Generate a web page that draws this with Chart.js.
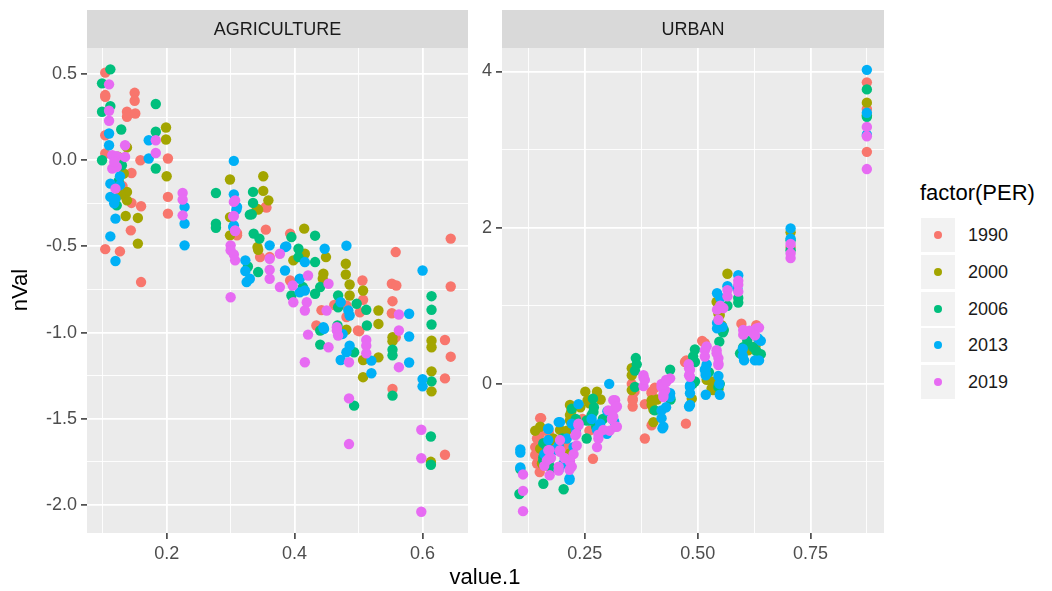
<!DOCTYPE html>
<html>
<head>
<meta charset="utf-8">
<script src="https://cdn.jsdelivr.net/npm/chart.js@4.4.0/dist/chart.umd.min.js"></script>
<style>
  body { margin: 0; background: #fff; width: 1052px; height: 591px; position: relative; overflow: hidden;
         font-family: "Liberation Sans", Arial, sans-serif; }
  canvas { position: absolute; top: 0; }
  #agri { left: 0; }
  #urban { left: 470px; }
  .axtitle { position: absolute; font-size: 22px; line-height: 28px; color: #000; white-space: nowrap; }
  #xtitle { left: 385px; width: 200px; top: 563px; text-align: center; }
  #ytitle { left: -30px; width: 100px; top: 276px; text-align: center; transform: rotate(-90deg); }
  #legend { position: absolute; left: 920px; top: 179px; }
  #legend .ltitle { font-size: 22px; line-height: 28px; color: #000; }
  .key { position: absolute; left: 1px; width: 34px; height: 34px; background: #F2F2F2; }
  .key span { position: absolute; left: 13px; top: 13px; width: 8px; height: 8px; border-radius: 50%; }
  .klab { position: absolute; left: 48px; font-size: 18px; line-height: 34px; color: #1A1A1A; }
</style>
</head>
<body>
<canvas id="agri" width="474" height="591"></canvas>
<canvas id="urban" width="420" height="591"></canvas>
<div class="axtitle" id="xtitle">value.1</div>
<div class="axtitle" id="ytitle">nVal</div>
<div id="legend"><div class="ltitle">factor(PER)</div></div>
<script>
const YEARS = ["1990", "2000", "2006", "2013", "2019"];
const COLORS = ["#F8766D", "#A3A500", "#00BF7D", "#00B0F6", "#E76BF3"];

// AGRICULTURE panel, [value.1, nVal]
const AG_1990 = [[0.104,0.508],[0.104,0.378],[0.104,0.368],[0.150,0.391],[0.150,0.345],[0.138,0.281],[0.138,0.252],
  [0.151,0.271],[0.104,0.145],[0.104,0.039],[0.159,0.0],[0.202,0.01],[0.145,-0.074],[0.202,-0.213],[0.145,-0.248],
  [0.160,-0.267],[0.202,-0.31],[0.310,-0.423],[0.310,-0.436],[0.144,-0.407],[0.104,-0.516],[0.127,-0.529],[0.160,-0.707],
  [0.355,-0.271],[0.356,-0.275],[0.355,-0.403],[0.346,-0.562],[0.361,-0.562],[0.393,-0.426],[0.393,-0.698],[0.481,-0.843],
  [0.506,-0.698],[0.507,-0.81],[0.502,-0.882],[0.558,-0.533],[0.552,-0.717],[0.559,-0.727],[0.553,-0.818],[0.552,-0.888],
  [0.644,-0.455],[0.644,-0.733],[0.434,-0.959],[0.501,-0.992],[0.558,-1.027],[0.553,-1.327],[0.635,-1.043],[0.644,-1.14],
  [0.635,-1.266],[0.635,-1.709],[0.481,-0.91],[0.462,-0.84],[0.442,-0.87],[0.499,-0.988],[0.131,-0.15]];
const AG_2000 = [[0.199,0.19],[0.199,0.12],[0.138,0.074],[0.133,-0.077],[0.200,-0.093],[0.299,-0.112],[0.138,-0.184],
  [0.138,-0.233],[0.136,-0.324],[0.155,-0.335],[0.299,-0.33],[0.299,-0.436],[0.155,-0.484],[0.351,-0.093],[0.351,-0.178],
  [0.359,-0.233],[0.341,-0.281],[0.343,-0.287],[0.342,-0.504],[0.343,-0.52],[0.398,-0.581],[0.415,-0.397],[0.416,-0.543],
  [0.449,-0.562],[0.445,-0.659],[0.444,-0.688],[0.480,-0.601],[0.480,-0.663],[0.486,-0.721],[0.486,-0.785],[0.507,-0.756],
  [0.531,-0.872],[0.531,-0.95],[0.481,-0.984],[0.507,-1.159],[0.531,-1.144],[0.507,-1.259],[0.553,-1.027],[0.553,-1.05],
  [0.614,-1.047],[0.614,-1.085],[0.614,-1.225],[0.614,-1.341],[0.613,-1.75],[0.128,-0.2],[0.124,0.02]];
const AG_2006 = [[0.112,0.527],[0.099,0.446],[0.183,0.326],[0.112,0.314],[0.099,0.281],[0.129,0.178],[0.183,0.165],
  [0.099,0.0],[0.183,-0.048],[0.130,-0.029],[0.277,-0.19],[0.122,-0.262],[0.277,-0.368],[0.277,-0.392],[0.335,-0.184],
  [0.335,-0.248],[0.333,-0.314],[0.330,-0.316],[0.336,-0.426],[0.345,-0.455],[0.343,-0.649],[0.327,-0.617],[0.395,-0.446],
  [0.406,-0.514],[0.406,-0.562],[0.432,-0.438],[0.432,-0.591],[0.413,-0.736],[0.395,-0.785],[0.432,-0.775],[0.440,-0.736],
  [0.468,-0.785],[0.468,-0.853],[0.497,-0.833],[0.512,-0.868],[0.513,-0.959],[0.614,-0.789],[0.614,-0.868],[0.614,-0.953],
  [0.440,-0.988],[0.440,-1.07],[0.467,-0.959],[0.493,-1.114],[0.553,-1.10],[0.553,-1.132],[0.553,-1.366],[0.493,-1.424],
  [0.614,-1.283],[0.613,-1.603],[0.613,-1.767],[0.125,-0.12]];
const AG_2013 = [[0.110,0.155],[0.110,0.087],[0.172,0.116],[0.172,0.01],[0.305,-0.004],[0.127,-0.093],[0.112,-0.136],
  [0.127,-0.145],[0.305,-0.198],[0.112,-0.213],[0.120,-0.223],[0.310,-0.271],[0.228,-0.271],[0.120,-0.339],[0.228,-0.368],
  [0.305,-0.378],[0.112,-0.442],[0.228,-0.494],[0.120,-0.585],[0.323,-0.581],[0.323,-0.643],[0.325,-0.707],[0.304,-0.388],
  [0.309,-0.287],[0.361,-0.494],[0.330,-0.688],[0.385,-0.504],[0.387,-0.5],[0.416,-0.591],[0.447,-0.514],[0.481,-0.496],
  [0.385,-0.64],[0.408,-0.688],[0.416,-0.756],[0.408,-0.766],[0.472,-0.824],[0.484,-0.872],[0.486,-0.901],[0.579,-0.891],
  [0.600,-0.64],[0.445,-0.969],[0.446,-0.979],[0.475,-1.008],[0.486,-1.076],[0.481,-1.114],[0.472,-1.159],[0.520,-1.163],
  [0.520,-1.236],[0.579,-1.023],[0.579,-1.174],[0.600,-1.27],[0.600,-1.312],[0.118,-0.25]];
const AG_2019 = [[0.110,0.44],[0.110,0.287],[0.110,0.229],[0.183,0.116],[0.135,0.087],[0.183,0.042],[0.115,0.029],
  [0.122,0.023],[0.135,0.019],[0.115,-0.048],[0.122,-0.039],[0.120,-0.165],[0.225,-0.19],[0.225,-0.229],[0.305,-0.242],
  [0.225,-0.32],[0.305,-0.324],[0.307,-0.407],[0.307,-0.233],[0.304,-0.326],[0.307,-0.411],[0.300,-0.494],[0.300,-0.523],
  [0.305,-0.547],[0.307,-0.581],[0.300,-0.795],[0.361,-0.572],[0.377,-0.543],[0.361,-0.636],[0.361,-0.688],[0.377,-0.736],
  [0.397,-0.727],[0.421,-0.669],[0.398,-0.824],[0.419,-0.824],[0.416,-0.872],[0.453,-0.717],[0.450,-0.872],[0.466,-0.969],
  [0.421,-1.012],[0.453,-1.085],[0.416,-1.172],[0.466,-0.988],[0.468,-1.017],[0.485,-1.172],[0.512,-1.043],[0.512,-1.076],
  [0.512,-1.12],[0.563,-0.988],[0.563,-1.201],[0.563,-0.895],[0.485,-1.382],[0.485,-1.647],[0.598,-1.564],[0.598,-1.729],
  [0.598,-2.04],[0.118,-0.01]];

// URBAN panel
const UR_1990 = [[0.875,3.86],[0.875,3.52],[0.875,2.97],[0.706,1.75],[0.597,0.77],[0.630,0.75],[0.516,0.52],[0.510,0.55],
  [0.472,0.28],[0.475,0.30],[0.474,-0.51],[0.356,-0.19],[0.356,-0.29],[0.383,-0.26],[0.398,-0.12],[0.398,-0.10],[0.405,-0.05],
  [0.354,0.0],[0.356,-0.21],[0.360,-0.10],[0.383,-0.70],[0.398,-0.53],[0.268,-0.96],[0.260,-0.60],[0.153,-0.44],[0.151,-0.44],
  [0.140,-0.81],[0.140,-0.91],[0.150,-1.13],[0.144,-1.02],[0.144,-0.70],[0.150,-0.65],[0.165,-1.05],[0.245,-0.45],
  [0.17,-0.62],[0.19,-0.75],[0.23,-0.55],[0.21,-0.80]];
const UR_2000 = [[0.875,3.60],[0.875,3.44],[0.706,1.94],[0.566,1.41],[0.542,1.05],[0.549,0.88],[0.546,0.90],[0.553,0.75],
  [0.612,0.43],[0.628,0.48],[0.531,0.03],[0.520,0.05],[0.531,-0.06],[0.534,-0.08],[0.546,-0.07],[0.487,-0.19],[0.354,0.20],
  [0.357,0.15],[0.354,0.11],[0.354,-0.08],[0.398,-0.21],[0.410,-0.20],[0.402,-0.33],[0.402,-0.49],[0.398,-0.27],
  [0.277,-0.10],[0.285,-0.20],[0.251,-0.10],[0.256,-0.21],[0.260,-0.25],[0.240,-0.30],[0.217,-0.27],[0.220,-0.35],
  [0.217,-0.47],[0.195,-0.59],[0.210,-0.60],[0.217,-0.40],[0.151,-0.55],[0.151,-0.83],[0.217,-0.89],[0.155,-1.02],
  [0.14,-0.60],[0.17,-0.75],[0.18,-0.70]];
const UR_2006 = [[0.875,3.77],[0.875,3.42],[0.706,1.84],[0.706,1.71],[0.590,1.04],[0.590,1.10],[0.566,1.00],[0.558,0.69],
  [0.556,0.66],[0.601,0.47],[0.610,0.55],[0.623,0.47],[0.630,0.42],[0.640,0.38],[0.594,0.39],[0.548,0.54],[0.546,-0.04],
  [0.549,0.0],[0.525,0.15],[0.494,0.44],[0.494,0.28],[0.490,0.35],[0.494,0.03],[0.489,0.0],[0.363,0.33],[0.365,0.25],
  [0.361,0.17],[0.361,-0.04],[0.439,0.18],[0.440,-0.20],[0.405,-0.34],[0.262,-0.47],[0.254,-0.70],[0.269,-0.36],
  [0.270,-0.30],[0.290,-0.45],[0.275,-0.55],[0.268,-0.19],[0.265,-0.40],[0.254,-0.47],[0.221,-0.32],[0.230,-0.45],
  [0.200,-0.70],[0.203,-1.35],[0.177,-1.08],[0.170,-1.00],[0.165,-0.80],[0.158,-0.76],[0.158,-0.98],[0.158,-1.28],
  [0.158,-0.94],[0.107,-1.09],[0.105,-1.41]];
const UR_2013 = [[0.875,4.02],[0.875,3.47],[0.875,3.19],[0.706,1.99],[0.706,1.86],[0.590,1.39],[0.588,1.22],[0.566,1.25],
  [0.543,1.16],[0.550,1.10],[0.543,0.78],[0.543,0.71],[0.555,0.73],[0.634,0.58],[0.640,0.55],[0.600,0.45],[0.600,0.36],
  [0.603,0.30],[0.627,0.30],[0.636,0.30],[0.518,0.20],[0.520,0.25],[0.518,0.11],[0.546,0.10],[0.516,0.18],[0.518,0.13],
  [0.548,0.0],[0.518,-0.14],[0.549,-0.14],[0.483,-0.02],[0.483,-0.12],[0.483,-0.27],[0.483,-0.04],[0.481,-0.29],
  [0.439,-0.12],[0.430,-0.30],[0.420,-0.34],[0.420,-0.44],[0.424,-0.55],[0.422,-0.57],[0.439,-0.17],[0.304,0.0],
  [0.300,-0.35],[0.315,-0.48],[0.265,-0.45],[0.299,-0.64],[0.284,-0.51],[0.277,-0.59],[0.236,-0.26],[0.221,-0.51],
  [0.230,-0.60],[0.210,-0.70],[0.225,-0.81],[0.216,-1.21],[0.216,-1.23],[0.203,-1.02],[0.192,-0.49],[0.195,-0.49],
  [0.192,-1.10],[0.173,-0.94],[0.166,-0.94],[0.160,-0.90],[0.180,-0.85],[0.169,-0.58],[0.169,-0.72],[0.169,-0.57],
  [0.192,-0.79],[0.107,-0.84],[0.107,-0.88],[0.107,-1.07]];
const UR_2019 = [[0.875,3.29],[0.875,3.17],[0.875,2.75],[0.706,1.79],[0.706,1.67],[0.706,1.61],[0.590,1.32],[0.590,1.27],
  [0.590,1.18],[0.566,1.20],[0.566,1.12],[0.550,1.00],[0.543,0.95],[0.557,0.97],[0.546,0.82],[0.601,0.69],[0.615,0.68],
  [0.601,0.63],[0.630,0.71],[0.636,0.72],[0.627,0.62],[0.516,0.43],[0.520,0.48],[0.516,0.35],[0.542,0.43],[0.546,0.33],
  [0.546,0.24],[0.542,0.39],[0.546,0.26],[0.481,0.20],[0.480,0.25],[0.481,0.11],[0.483,0.18],[0.483,0.09],[0.380,0.11],
  [0.380,-0.03],[0.380,0.08],[0.383,0.05],[0.420,0.0],[0.430,0.05],[0.439,0.07],[0.428,-0.08],[0.424,-0.17],[0.420,-0.04],
  [0.431,0.03],[0.424,-0.14],[0.317,-0.21],[0.317,-0.31],[0.317,-0.55],[0.310,-0.45],[0.305,-0.60],[0.302,-0.34],
  [0.291,-0.59],[0.280,-0.70],[0.280,-0.65],[0.277,-0.81],[0.313,-0.21],[0.321,-0.29],[0.313,-0.42],[0.321,-0.55],
  [0.236,-0.53],[0.229,-0.66],[0.232,-0.79],[0.225,-0.90],[0.205,-0.95],[0.217,-0.98],[0.221,-1.06],[0.217,-1.0],
  [0.216,-1.10],[0.195,-0.72],[0.195,-0.85],[0.195,-0.87],[0.192,-1.11],[0.192,-1.06],[0.172,-1.17],[0.175,-0.95],
  [0.160,-1.05],[0.169,-0.85],[0.166,-0.98],[0.172,-0.85],[0.170,-0.96],[0.236,-0.51],[0.231,-0.64],[0.113,-1.16],
  [0.113,-1.37],[0.113,-1.63]];

// axis ticks (major get labels, minor only grid lines)
const AG_X_MAJOR = [0.2, 0.4, 0.6], AG_X_MINOR = [0.1, 0.3, 0.5];
const AG_Y_MAJOR = [0.5, 0, -0.5, -1, -1.5, -2], AG_Y_MINOR = [0.25, -0.25, -0.75, -1.25, -1.75];
const UR_X_MAJOR = [0.25, 0.5, 0.75], UR_X_MINOR = [0.125, 0.375, 0.625, 0.875];
const UR_Y_MAJOR = [0, 2, 4], UR_Y_MINOR = [-1, 1, 3];

const FONT = '"Liberation Sans", Arial, sans-serif';

// panel background + facet strip
const facetStrip = {
  id: "facetStrip",
  beforeDraw(chart, args, opts) {
    const { ctx, chartArea: a } = chart;
    ctx.save();
    ctx.fillStyle = "#EBEBEB";
    ctx.fillRect(a.left, a.top, a.right - a.left, a.bottom - a.top);
    ctx.fillStyle = "#D9D9D9";
    ctx.fillRect(a.left, 10, a.right - a.left, a.top - 10);
    ctx.fillStyle = "#1A1A1A";
    ctx.font = "18px " + FONT;
    ctx.textAlign = "center";
    ctx.textBaseline = "middle";
    ctx.fillText(opts.text, (a.left + a.right) / 2, (10 + a.top) / 2 + 1);
    ctx.restore();
  }
};

function axis(min, max, major, minor, fmt, fit) {
  const isMajor = c => c.tick && major.includes(c.tick.value);
  return {
    type: "linear",
    min: min,
    max: max,
    border: { display: false },
    grid: {
      color: "#FFFFFF",
      lineWidth: c => isMajor(c) ? 1.8 : 0.9,
      tickColor: c => isMajor(c) ? "#333333" : "rgba(0,0,0,0)",
      tickLength: 6,
      tickWidth: 1.5
    },
    ticks: {
      color: "#4D4D4D",
      font: { size: 18, family: FONT },
      padding: 4,
      autoSkip: false,
      maxRotation: 0,
      callback: v => major.includes(v) ? fmt(v) : ""
    },
    afterBuildTicks: s => {
      s.ticks = major.concat(minor).sort((a, b) => a - b).map(v => ({ value: v }));
    },
    afterFit: fit
  };
}

function makeChart(id, title, series, xs, ys, yWidth, padRight) {
  const datasets = series.map((pts, i) => ({
    label: YEARS[i],
    data: pts.map(p => ({ x: p[0], y: p[1] })),
    backgroundColor: COLORS[i],
    borderWidth: 0,
    pointRadius: 5.2,
    order: series.length - i
  }));
  return new Chart(document.getElementById(id), {
    type: "scatter",
    data: { datasets: datasets },
    plugins: [facetStrip],
    options: {
      responsive: false,
      animation: false,
      layout: { padding: { top: 48, right: padRight, left: 0, bottom: 0 } },
      plugins: {
        legend: { display: false },
        tooltip: { enabled: false },
        facetStrip: { text: title }
      },
      scales: {
        x: axis(xs[0], xs[1], xs[2], xs[3], xs[4], s => { s.height = 58; }),
        y: axis(ys[0], ys[1], ys[2], ys[3], ys[4], s => { s.width = yWidth; })
      }
    }
  });
}

makeChart("agri", "AGRICULTURE", [AG_1990, AG_2000, AG_2006, AG_2013, AG_2019],
  [0.0755, 0.671, AG_X_MAJOR, AG_X_MINOR, v => v.toFixed(1)],
  [-2.163, 0.651, AG_Y_MAJOR, AG_Y_MINOR, v => v.toFixed(1)], 87, 6);

makeChart("urban", "URBAN", [UR_1990, UR_2000, UR_2006, UR_2013, UR_2019],
  [0.0664, 0.913, UR_X_MAJOR, UR_X_MINOR, v => v.toFixed(2)],
  [-1.91, 4.30, UR_Y_MAJOR, UR_Y_MINOR, v => String(v)], 32, 6);

// legend
const legend = document.getElementById("legend");
YEARS.forEach((yr, i) => {
  const top = 39 + i * 36.8;
  const key = document.createElement("div");
  key.className = "key";
  key.style.top = top + "px";
  key.innerHTML = '<span style="background:' + COLORS[i] + '"></span>';
  const lab = document.createElement("div");
  lab.className = "klab";
  lab.style.top = top + "px";
  lab.textContent = yr;
  legend.appendChild(key);
  legend.appendChild(lab);
});
</script>
</body>
</html>
